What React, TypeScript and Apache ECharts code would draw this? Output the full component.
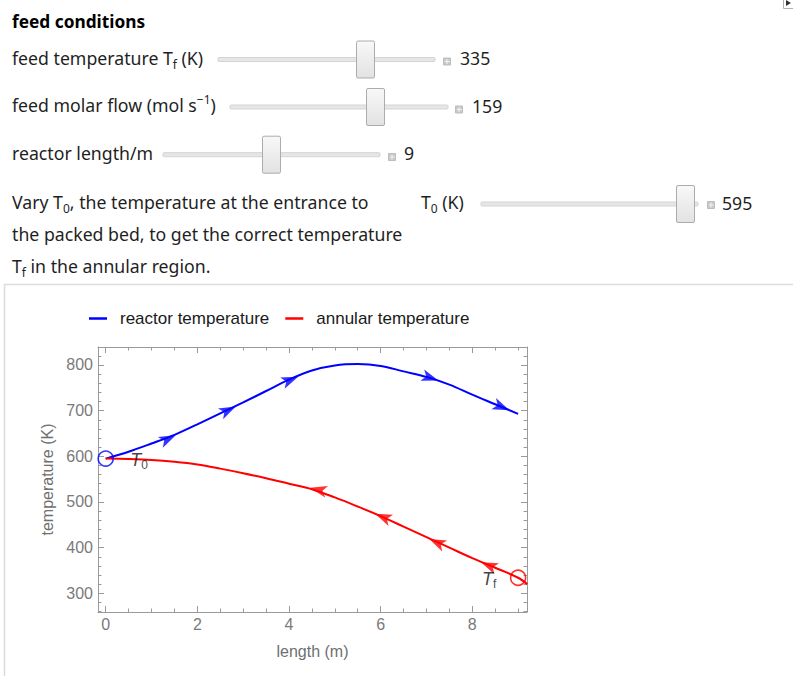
import React, { useEffect, useRef } from 'react';
import * as echarts from 'echarts';

// ---------- data ----------
const lengthM = [0, 0.5, 1, 1.5, 2, 2.5, 3, 3.5, 4, 4.5, 5, 5.5, 6, 6.5, 7, 7.5, 8, 8.5, 9];
const reactorTemperature = [595, 610, 628, 647, 670, 694, 718, 743, 768, 788, 799, 802, 798, 786, 774, 757, 735, 714, 693];
const annularLengthM = [0, 0.5, 1, 1.5, 2, 2.5, 3, 3.5, 4, 4.5, 5, 5.5, 6, 6.5, 7, 7.5, 8, 8.5, 9, 9.2];
const annularTemperature = [595, 594, 592, 588, 582, 573, 563, 552, 540, 528, 510, 490, 469, 446, 423, 400, 377, 356, 334, 320];

const xMajorTicks = [0, 2, 4, 6, 8];
const xMinorTicks = [0.5, 1, 1.5, 2.5, 3, 3.5, 4.5, 5, 5.5, 6.5, 7, 7.5, 8.5, 9];
const yMajorTicks = [300, 400, 500, 600, 700, 800];
const yMinorTicks = [260, 280, 320, 340, 360, 380, 420, 440, 460, 480, 520, 540, 560, 580, 620, 640, 660, 680, 720, 740, 760, 780, 820];

const reactorArrowPoints = [[1.53, 646], [2.84, 709], [4.2, 774], [7.26, 766], [8.81, 701]];
const annularArrowPoints = [[4.46, 531], [5.88, 474], [7.06, 419], [8.19, 368]];
const inletPoint = [0, 595];
const feedPoint = [9, 334];
const t0LabelPoint = [0.73, 591];
const tfLabelPoint = [8.37, 331];

const seriesNames = ['reactor temperature', 'annular temperature'];
const sliderValues = ['335', '159', '9', '595'];

// ---------- styles ----------
const BLUE = '#0000ff';
const RED = '#ff0000';
const FRAME = '#9a9a9a';
const TICK_TXT = '#7a7a7a';
const CHART_FONT = '"Liberation Sans", Arial, sans-serif';
const UI_FONT = '"Noto Sans", "Open Sans", sans-serif';
const UI_TXT = '#1f1f1f';
const UI_SIZE = 17.7;

const X_MIN = -0.168;
const X_MAX = 9.194;
const Y_MIN = 259;
const Y_MAX = 839.4;

const rich = {
  n: { fontSize: UI_SIZE, fontFamily: UI_FONT, fill: UI_TXT, lineHeight: 24 },
  b: { fontSize: 17.3, fontFamily: UI_FONT, fill: '#000', lineHeight: 24, fontWeight: 'bold' },
  sub: { fontSize: 12, fontFamily: UI_FONT, fill: UI_TXT, lineHeight: 13, verticalAlign: 'bottom' },
  sup: { fontSize: 12, fontFamily: UI_FONT, fill: UI_TXT, lineHeight: 13, verticalAlign: 'top' },
};

function uiText(x: number, y: number, text: string) {
  return {
    type: 'text',
    silent: true,
    style: {
      x, y, text, rich,
      fontSize: UI_SIZE, fontFamily: UI_FONT, fill: UI_TXT,
      align: 'left', verticalAlign: 'middle',
    },
  };
}

function slider(x1: number, x2: number, y: number, thumbX: number, plusX: number, plusY: number, valX: number, valY: number, val: string) {
  const thumbFill = new echarts.graphic.LinearGradient(0, 0, 0, 1, [
    { offset: 0, color: '#f8f8f8' },
    { offset: 1, color: '#e2e2e2' },
  ]);
  return [
    { type: 'rect', silent: true, shape: { x: x1, y: y - 2, width: x2 - x1, height: 4, r: 1 }, style: { fill: '#e6e6e6', stroke: '#d4d4d4', lineWidth: 1 } },
    { type: 'rect', silent: true, shape: { x: thumbX + 0.5, y: y - 18.5, width: 18, height: 37, r: 1.5 }, style: { fill: thumbFill, stroke: '#acacac', lineWidth: 1 } },
    { type: 'rect', silent: true, shape: { x: plusX + 0.5, y: plusY - 3.5, width: 7, height: 7 }, style: { fill: '#c9c9c9', stroke: '#bdbdbd', lineWidth: 1 } },
    { type: 'line', silent: true, shape: { x1: plusX + 2, y1: plusY, x2: plusX + 7, y2: plusY }, style: { stroke: '#f2f2f2', lineWidth: 1 } },
    { type: 'line', silent: true, shape: { x1: plusX + 4, y1: plusY - 2.5, x2: plusX + 4, y2: plusY + 2.5 }, style: { stroke: '#f2f2f2', lineWidth: 1 } },
    uiText(valX, valY, '{n|' + val + '}'),
  ];
}

function buildGraphic() {
  return [
    // panel box of the plot
    { type: 'rect', silent: true, z: -10, shape: { x: 4.5, y: 284.5, width: 900, height: 500 }, style: { fill: '#fff', stroke: '#dcdcdc', lineWidth: 1.5 } },
    // corner icon
    { type: 'polyline', silent: true, shape: { points: [[783.5, 0], [783.5, 8.5], [793, 8.5]] }, style: { stroke: '#b0b0b0', lineWidth: 1, fill: 'none' } },
    { type: 'polygon', silent: true, shape: { points: [[786, 0], [791, 3], [786, 6]] }, style: { fill: '#333' } },
    uiText(12, 21, '{b|feed conditions}'),
    uiText(12, 58, '{n|feed temperature T}{sub|f}{n| (K)}'),
    ...slider(218, 435, 59.5, 356, 443, 61.5, 460, 57.5, sliderValues[0]),
    uiText(12, 105, '{n|feed molar flow (mol s}{sup|−1}{n|)}'),
    ...slider(230, 448, 107, 366, 455, 109.5, 472, 105.5, sliderValues[1]),
    uiText(12, 153, '{n|reactor length/m}'),
    ...slider(163, 380, 154.7, 262, 388, 157, 404, 153, sliderValues[2]),
    uiText(12, 202, '{n|Vary T}{sub|0}{n|, the temperature at the entrance to}'),
    uiText(12, 234, '{n|the packed bed, to get the correct temperature}'),
    uiText(12, 266, '{n|T}{sub|f}{n| in the annular region.}'),
    uiText(421, 202, '{n|T}{sub|0}{n| (K)}'),
    ...slider(481, 698, 204, 676, 707, 205, 722, 202.5, sliderValues[3]),
  ];
}

const labelStyle = { color: TICK_TXT, fontSize: 16, fontFamily: CHART_FONT };

function xAxisDef(position: string, major: boolean, withLine: boolean, labels: boolean) {
  const a: any = {
    type: 'value', gridIndex: 0, position, min: X_MIN, max: X_MAX,
    splitLine: { show: false },
    axisLine: { show: withLine, onZero: false, lineStyle: { color: FRAME, width: 1 } },
    axisTick: { show: true, inside: true, length: major ? 6 : 3.5, customValues: major ? xMajorTicks : xMinorTicks, lineStyle: { color: FRAME, width: 1 } },
    axisLabel: labels ? { show: true, customValues: xMajorTicks, margin: 4, ...labelStyle } : { show: false },
  };
  if (labels) {
    a.name = 'length (m)';
    a.nameLocation = 'middle';
    a.nameGap = 31;
    a.nameTextStyle = { color: '#6f6f6f', fontSize: 16, fontFamily: CHART_FONT };
  }
  return a;
}

function yAxisDef(position: string, major: boolean, withLine: boolean, labels: boolean) {
  const a: any = {
    type: 'value', gridIndex: 0, position, min: Y_MIN, max: Y_MAX,
    splitLine: { show: false },
    axisLine: { show: withLine, onZero: false, lineStyle: { color: FRAME, width: 1 } },
    axisTick: { show: true, inside: true, length: major ? 6 : 3.5, customValues: major ? yMajorTicks : yMinorTicks, lineStyle: { color: FRAME, width: 1 } },
    axisLabel: labels ? { show: true, customValues: yMajorTicks, margin: 5, ...labelStyle } : { show: false },
  };
  if (labels) {
    a.name = 'temperature (K)';
    a.nameLocation = 'middle';
    a.nameGap = 43;
    a.nameTextStyle = { color: '#6f6f6f', fontSize: 16, fontFamily: CHART_FONT };
  }
  return a;
}

const tRich = {
  i: { fontSize: 18, fontStyle: 'italic', fontFamily: CHART_FONT, color: '#111', lineHeight: 22 },
  s: { fontSize: 12, fontFamily: CHART_FONT, color: '#111', lineHeight: 12, verticalAlign: 'bottom' },
};

function arrowData(points: number[][], xs: number[], ys: number[], reverse: boolean, chart: any) {
  return points.map((p) => {
    let rot = 0;
    if (chart) {
      let i = 0;
      while (i < xs.length - 2 && xs[i + 1] < p[0]) i++;
      const p1 = chart.convertToPixel({ xAxisIndex: 0, yAxisIndex: 0 }, [xs[i], ys[i]]);
      const p2 = chart.convertToPixel({ xAxisIndex: 0, yAxisIndex: 0 }, [xs[i + 1], ys[i + 1]]);
      let dx = p2[0] - p1[0];
      let dy = p2[1] - p1[1];
      if (reverse) { dx = -dx; dy = -dy; }
      rot = (Math.atan2(-dy, dx) * 180) / Math.PI - 90;
    }
    return { value: p, symbolRotate: rot };
  });
}

function buildOption(chart: any) {
  return {
    animation: false,
    backgroundColor: '#fff',
    graphic: buildGraphic(),
    legend: {
      data: seriesNames,
      left: 84,
      top: 305,
      icon: 'rect',
      itemWidth: 18,
      itemHeight: 2.5,
      itemGap: 16,
      selectedMode: false,
      textStyle: { color: '#1a1a1a', fontSize: 17, fontFamily: CHART_FONT, padding: [0, 0, 0, 8] },
    },
    grid: { left: 98, top: 347, width: 429, height: 265, containLabel: false },
    xAxis: [
      xAxisDef('bottom', true, true, true),
      xAxisDef('bottom', false, false, false),
      xAxisDef('top', true, true, false),
      xAxisDef('top', false, false, false),
    ],
    yAxis: [
      yAxisDef('left', true, true, true),
      yAxisDef('left', false, false, false),
      yAxisDef('right', true, true, false),
      yAxisDef('right', false, false, false),
    ],
    series: [
      {
        id: 'reactor', name: seriesNames[0], type: 'line', xAxisIndex: 0, yAxisIndex: 0,
        data: lengthM.map((x, i) => [x, reactorTemperature[i]]),
        smooth: 0.35, showSymbol: false, symbol: 'none', color: BLUE,
        lineStyle: { color: BLUE, width: 2 }, z: 3, clip: true, silent: true,
      },
      {
        id: 'annular', name: seriesNames[1], type: 'line', xAxisIndex: 0, yAxisIndex: 0,
        data: annularLengthM.map((x, i) => [x, annularTemperature[i]]),
        smooth: 0.35, showSymbol: false, symbol: 'none', color: RED,
        lineStyle: { color: RED, width: 2 }, z: 3, clip: true, silent: true,
      },
      {
        id: 'reactorArrows', type: 'scatter', xAxisIndex: 0, yAxisIndex: 0,
        symbol: 'arrow', symbolSize: [9, 17], itemStyle: { color: BLUE }, z: 4, silent: true,
        data: arrowData(reactorArrowPoints, lengthM, reactorTemperature, false, chart),
      },
      {
        id: 'annularArrows', type: 'scatter', xAxisIndex: 0, yAxisIndex: 0,
        symbol: 'arrow', symbolSize: [9, 17], itemStyle: { color: RED }, z: 4, silent: true,
        data: arrowData(annularArrowPoints, annularLengthM, annularTemperature, true, chart),
      },
      {
        id: 'endCircles', type: 'scatter', xAxisIndex: 0, yAxisIndex: 0,
        symbol: 'circle', symbolSize: 15, z: 5, silent: true,
        itemStyle: { color: 'rgba(0,0,0,0)', borderWidth: 1.6 },
        data: [
          { value: inletPoint, itemStyle: { borderColor: BLUE, color: 'rgba(0,0,0,0)', borderWidth: 1.6 } },
          { value: feedPoint, itemStyle: { borderColor: RED, color: 'rgba(0,0,0,0)', borderWidth: 1.6 } },
        ],
      },
      {
        id: 'endLabels', type: 'scatter', xAxisIndex: 0, yAxisIndex: 0,
        symbol: 'circle', symbolSize: 0, z: 6, silent: true,
        label: { show: true, position: 'inside', rich: tRich },
        data: [
          { value: t0LabelPoint, label: { formatter: '{i|T}{s|0}' } },
          { value: tfLabelPoint, label: { formatter: '{i|T}{s|f}' } },
        ],
      },
    ],
  };
}

export default function App() {
  const ref = useRef<HTMLDivElement>(null);
  useEffect(() => {
    if (!ref.current) return;
    const chart = echarts.init(ref.current, undefined, { renderer: 'svg' });
    chart.setOption(buildOption(null));
    chart.setOption({
      series: [
        { id: 'reactorArrows', data: arrowData(reactorArrowPoints, lengthM, reactorTemperature, false, chart) },
        { id: 'annularArrows', data: arrowData(annularArrowPoints, annularLengthM, annularTemperature, true, chart) },
      ],
    });
    return () => chart.dispose();
  }, []);
  return (
    <div
      ref={ref}
      style={{ position: 'absolute', left: 0, top: 0, width: 793, height: 676, background: '#fff' }}
    />
  );
}
